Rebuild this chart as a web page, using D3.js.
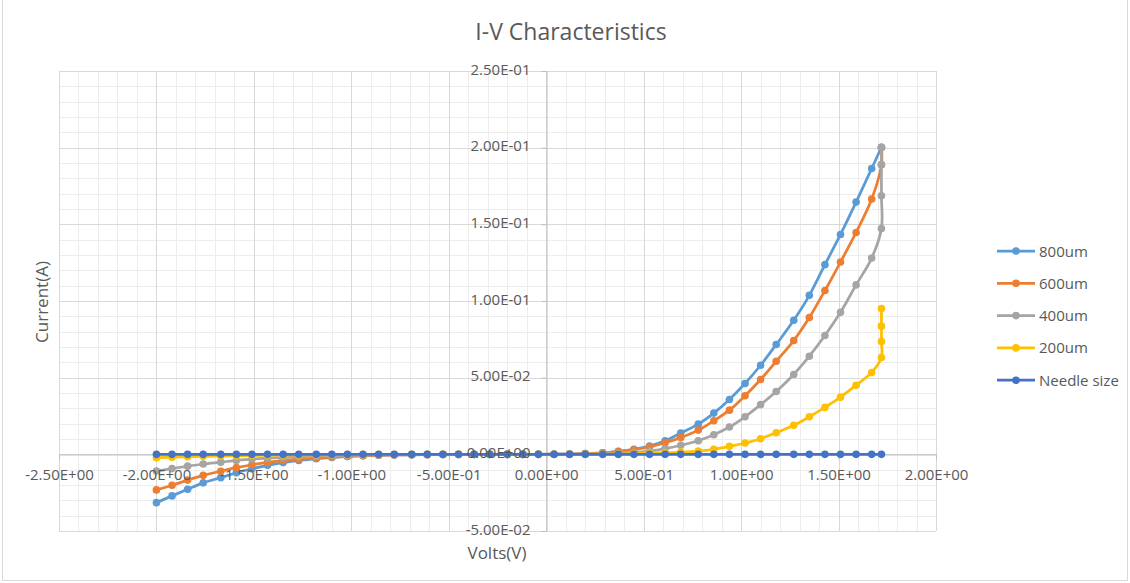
<!DOCTYPE html>
<html>
<head>
<meta charset="utf-8">
<script src="https://cdn.jsdelivr.net/npm/d3@7"></script>
<style>
  body { margin: 0; background: #fff; }
  svg { font-family: "Open Sans", sans-serif; }
</style>
</head>
<body>
<div id="chart"></div>
<script>
// sweep voltages (V), plus the clamped end voltage
var volts = [-2.00, -1.92, -1.84, -1.76, -1.67, -1.59, -1.51, -1.43, -1.35, -1.27,
             -1.18, -1.10, -1.02, -0.94, -0.86, -0.78, -0.69, -0.61, -0.53, -0.45,
             -0.37, -0.29, -0.20, -0.12, -0.04, 0.04, 0.12, 0.20, 0.29, 0.37,
             0.45, 0.53, 0.61, 0.69, 0.78, 0.86, 0.94, 1.02, 1.10, 1.18,
             1.27, 1.35, 1.43, 1.51, 1.59, 1.67];
var vEnd = 1.72;

// currents (A)
var i800 = [-0.0315, -0.0271, -0.0228, -0.0186, -0.0152, -0.0120, -0.0094, -0.0072, -0.0054, -0.0040,
            -0.0029, -0.0020, -0.0014, -0.0009, -0.0006, -0.0004, -0.0003, -0.0002, -0.0001, -0.0001,
            0, 0, 0, 0, 0, 0.0001, 0.0002, 0.0005, 0.0010, 0.0019,
            0.0033, 0.0054, 0.0089, 0.0139, 0.0197, 0.0269, 0.0358, 0.0462, 0.0581, 0.0716,
            0.0874, 0.1037, 0.1237, 0.1434, 0.1645, 0.1864];
var end800 = [0.2003];

var i600 = [-0.0232, -0.0202, -0.0168, -0.0137, -0.0110, -0.0087, -0.0068, -0.0053, -0.0041, -0.0032,
            -0.0024, -0.0018, -0.0013, -0.0009, -0.0006, -0.0004, -0.0003, -0.0002, -0.0001, -0.0001,
            0, 0, 0, 0, 0, 0.0001, 0.0002, 0.0005, 0.0010, 0.0018,
            0.0030, 0.0048, 0.0076, 0.0109, 0.0158, 0.0219, 0.0288, 0.0382, 0.0488, 0.0607,
            0.0742, 0.0892, 0.1068, 0.1254, 0.1447, 0.1665];
var end600 = [0.1888, 0.2000];

var i400 = [-0.0109, -0.0093, -0.0077, -0.0063, -0.0051, -0.0040, -0.0032, -0.0025, -0.0020, -0.0015,
            -0.0012, -0.0009, -0.0007, -0.0005, -0.0004, -0.0003, -0.0002, -0.0001, -0.0001, 0,
            0, 0, 0, 0, 0, 0, 0.0001, 0.0002, 0.0004, 0.0007,
            0.0012, 0.0021, 0.0037, 0.0059, 0.0089, 0.0128, 0.0178, 0.0245, 0.0324, 0.0410,
            0.0521, 0.0640, 0.0775, 0.0926, 0.1105, 0.1280];
var end400 = [0.1473, 0.1686, 0.1890, 0.2003];

var i200 = [-0.0022, -0.0019, -0.0016, -0.0013, -0.0011, -0.0009, -0.0008, -0.0006, -0.0005, -0.0004,
            -0.0003, -0.0003, -0.0002, -0.0002, -0.0001, -0.0001, 0, 0, 0, 0,
            0, 0, 0, 0, 0, 0, 0, 0.0001, 0.0001, 0.0002,
            0.0004, 0.0008, 0.0010, 0.0015, 0.0021, 0.0033, 0.0052, 0.0074, 0.0102, 0.0141,
            0.0189, 0.0245, 0.0306, 0.0373, 0.0451, 0.0534];
var end200 = [0.0632, 0.0736, 0.0836, 0.0951];

var iNeedle = [0, 0, 0, 0, 0, 0, 0, 0, 0, 0,
               0, 0, 0, 0, 0, 0, 0, 0, 0, 0,
               0, 0, 0, 0, 0, 0, 0, 0, 0, 0,
               0, 0, 0, 0, 0, 0, 0, 0, 0, 0,
               0, 0, 0, 0, 0, 0];
var endNeedle = [0];

var names = ["800um", "600um", "400um", "200um", "Needle size"];
var colors = ["#5b9bd5", "#ed7d31", "#a5a5a5", "#ffc000", "#4472c4"];
var currents = [i800, i600, i400, i200, iNeedle];
var ends = [end800, end600, end400, end200, endNeedle];

var xTicks = [-2.5, -2.0, -1.5, -1.0, -0.5, 0, 0.5, 1.0, 1.5, 2.0];
var yTicks = [-0.05, 0, 0.05, 0.10, 0.15, 0.20, 0.25];

var width = 1130, height = 583;
var textColor = "#595959";

function sci(v) {
  if (Math.abs(v) < 1e-12) return "0.00E+00";
  var e = Math.floor(Math.log10(Math.abs(v)) + 1e-9);
  var m = v / Math.pow(10, e);
  var ex = Math.abs(e);
  return m.toFixed(2) + "E" + (e < 0 ? "-" : "+") + (ex < 10 ? "0" : "") + ex;
}

var svg = d3.select("#chart").append("svg")
    .attr("width", width)
    .attr("height", height);

// chart frame
svg.append("rect")
    .attr("x", 2.5).attr("y", -1)
    .attr("width", 1125).attr("height", 581.5)
    .attr("fill", "#fff")
    .attr("stroke", "#d9d9d9");

var x = d3.scaleLinear().domain([-2.5, 2.0]).range([59, 936]);
var y = d3.scaleLinear().domain([-0.05, 0.25]).range([531, 71]);

var grid = svg.append("g");

// minor grid
grid.selectAll(".mx")
    .data(d3.range(-25, 21).map(function(d){ return d / 10; }))
    .enter().append("line")
    .attr("x1", function(d){ return Math.round(x(d)) + 0.5; })
    .attr("x2", function(d){ return Math.round(x(d)) + 0.5; })
    .attr("y1", y(0.25)).attr("y2", y(-0.05))
    .attr("stroke", "#ededed");
grid.selectAll(".my")
    .data(d3.range(-5, 26).map(function(d){ return d / 100; }))
    .enter().append("line")
    .attr("y1", function(d){ return Math.round(y(d)) + 0.5; })
    .attr("y2", function(d){ return Math.round(y(d)) + 0.5; })
    .attr("x1", x(-2.5)).attr("x2", x(2.0))
    .attr("stroke", "#ededed");

// major grid
grid.selectAll(".Mx")
    .data(xTicks)
    .enter().append("line")
    .attr("x1", function(d){ return Math.round(x(d)) + 0.5; })
    .attr("x2", function(d){ return Math.round(x(d)) + 0.5; })
    .attr("y1", y(0.25)).attr("y2", y(-0.05))
    .attr("stroke", "#d9d9d9");
grid.selectAll(".My")
    .data(yTicks)
    .enter().append("line")
    .attr("y1", function(d){ return Math.round(y(d)) + 0.5; })
    .attr("y2", function(d){ return Math.round(y(d)) + 0.5; })
    .attr("x1", x(-2.5)).attr("x2", x(2.0))
    .attr("stroke", "#d9d9d9");

// axis lines and ticks (under the series)
var xAxis = d3.axisBottom(x).tickValues(xTicks).tickSize(5).tickPadding(10).tickFormat(sci);
var yAxis = d3.axisLeft(y).tickValues(yTicks).tickSize(5).tickPadding(11).tickFormat(sci);

function styleAxis(g) {
  g.select(".domain").attr("stroke", "#bfbfbf");
  g.selectAll(".tick line").attr("stroke", "#bfbfbf");
  g.selectAll("text").attr("fill", textColor).attr("font-size", 15)
      .attr("font-family", "Open Sans, sans-serif");
}

svg.append("g")
    .attr("transform", "translate(0," + (Math.round(y(0)) + 0.5) + ")")
    .call(xAxis).call(styleAxis)
    .selectAll("text").remove();
svg.append("g")
    .attr("transform", "translate(" + (Math.round(x(0)) + 0.5) + ",0)")
    .call(yAxis).call(styleAxis)
    .selectAll("text").remove();

// series
var line = d3.line()
    .x(function(d){ return x(d[0]); })
    .y(function(d){ return y(d[1]); })
    .curve(d3.curveCatmullRom.alpha(0.5));

var series = names.map(function(n, s) {
  var pts = volts.map(function(v, i){ return [v, currents[s][i]]; })
      .concat(ends[s].map(function(c){ return [vEnd, c]; }));
  return {name: n, color: colors[s], points: pts};
});

var sg = svg.selectAll(".series")
    .data(series)
    .enter().append("g");

sg.append("path")
    .attr("fill", "none")
    .attr("stroke", function(d){ return d.color; })
    .attr("stroke-width", 2.75)
    .attr("stroke-linejoin", "round")
    .attr("d", function(d){ return line(d.points); });

sg.selectAll("circle")
    .data(function(d){ return d.points.map(function(p){ return {p: p, c: d.color}; }); })
    .enter().append("circle")
    .attr("cx", function(d){ return x(d.p[0]); })
    .attr("cy", function(d){ return y(d.p[1]); })
    .attr("r", 3.8)
    .attr("fill", function(d){ return d.c; });

// tick labels on top
var xl = svg.append("g")
    .attr("transform", "translate(0," + (Math.round(y(0)) + 0.5) + ")")
    .call(xAxis).call(styleAxis);
xl.select(".domain").remove();
xl.selectAll(".tick line").remove();

var yl = svg.append("g")
    .attr("transform", "translate(" + (Math.round(x(0)) + 0.5) + ",0)")
    .call(yAxis).call(styleAxis);
yl.select(".domain").remove();
yl.selectAll(".tick line").remove();
yl.selectAll("text").attr("dy", "0.2em");

// titles
svg.append("text")
    .attr("x", 571).attr("y", 40)
    .attr("text-anchor", "middle")
    .attr("font-size", 23)
    .attr("fill", textColor)
    .text("I-V Characteristics");

svg.append("text")
    .attr("x", 497).attr("y", 559)
    .attr("text-anchor", "middle")
    .attr("font-size", 17)
    .attr("fill", textColor)
    .text("Volts(V)");

svg.append("text")
    .attr("transform", "translate(48,302) rotate(-90)")
    .attr("text-anchor", "middle")
    .attr("font-size", 17)
    .attr("fill", textColor)
    .text("Current(A)");

// legend
var legend = svg.append("g")
    .attr("transform", "translate(997,251)");

var li = legend.selectAll("g")
    .data(series)
    .enter().append("g")
    .attr("transform", function(d, i){ return "translate(0," + (i * 32.3) + ")"; });

li.append("line")
    .attr("x1", 0).attr("x2", 38)
    .attr("stroke", function(d){ return d.color; })
    .attr("stroke-width", 2.75);
li.append("circle")
    .attr("cx", 19).attr("r", 3.8)
    .attr("fill", function(d){ return d.color; });
li.append("text")
    .attr("x", 42).attr("y", 5.5)
    .attr("font-size", 15)
    .attr("fill", textColor)
    .text(function(d){ return d.name; });
</script>
</body>
</html>
